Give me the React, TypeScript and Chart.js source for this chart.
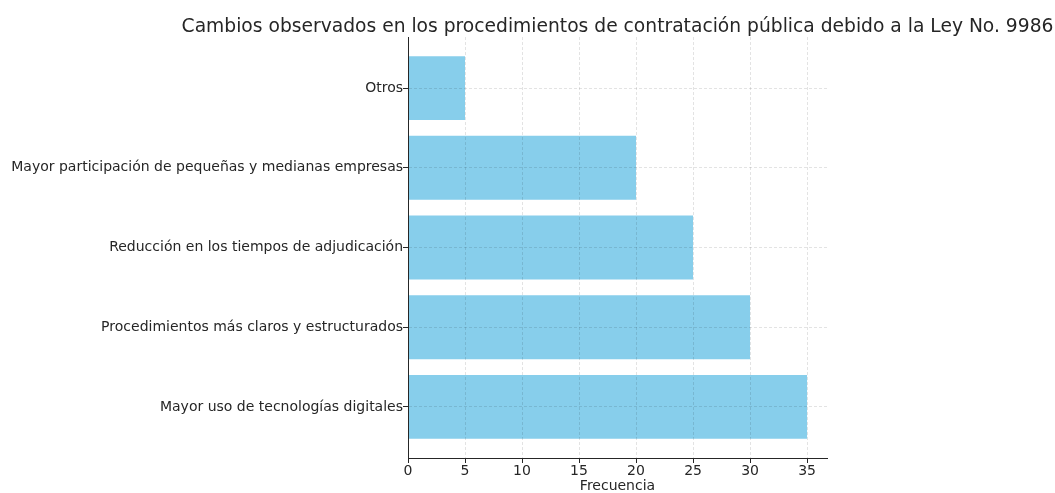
import React, { useEffect, useRef } from "react";
import { Chart, registerables } from "chart.js";

Chart.register(...registerables);

const categories = [
  "Mayor uso de tecnologías digitales",
  "Procedimientos más claros y estructurados",
  "Reducción en los tiempos de adjudicación",
  "Mayor participación de pequeñas y medianas empresas",
  "Otros",
];
const values = [35, 30, 25, 20, 5];
const xTicks = [0, 5, 10, 15, 20, 25, 30, 35];
const titleText =
  "Cambios observados en los procedimientos de contratación pública debido a la Ley No. 9986";
const xLabel = "Frecuencia";

const FONT = "'DejaVu Sans', sans-serif";
const TEXT = "#262626";

export default function App() {
  const ref = useRef<HTMLCanvasElement | null>(null);

  useEffect(() => {
    if (!ref.current) return;
    const textPlugin = {
      id: "mplTexts",
      afterDraw(chart: any) {
        const { ctx, chartArea } = chart;
        const cx = (chartArea.left + chartArea.right) / 2;
        ctx.save();
        ctx.fillStyle = TEXT;
        ctx.textAlign = "center";
        ctx.textBaseline = "alphabetic";
        ctx.font = `18.7px ${FONT}`;
        ctx.fillText(titleText, cx, 32);
        ctx.font = `14px ${FONT}`;
        ctx.fillText(xLabel, cx, 490);
        ctx.restore();
      },
    };

    const chart = new Chart(ref.current, {
      type: "bar",
      data: {
        datasets: [
          {
            data: values.map((v, i) => ({ x: v, y: i })),
            backgroundColor: "#87CEEB",
            borderWidth: 0,
            barPercentage: 0.8,
            categoryPercentage: 1,
          },
        ],
      },
      options: {
        indexAxis: "y",
        animation: false,
        responsive: false,
        layout: { padding: { top: 37, right: 228, left: 0, bottom: 0 } },
        plugins: {
          legend: { display: false },
          tooltip: { enabled: false },
          title: { display: false },
        },
        scales: {
          x: {
            type: "linear",
            min: 0,
            max: 36.75,
            offset: false,
            afterBuildTicks: (s: any) => {
              s.ticks = xTicks.map((v) => ({ value: v }));
            },
            afterFit: (s: any) => {
              s.height = 35;
            },
            ticks: {
              font: { family: FONT, size: 14 },
              color: TEXT,
              padding: 0,
              maxRotation: 0,
              autoSkip: false,
            },
            grid: {
              offset: false,
              color: "rgba(0,0,0,0.11)",
              tickColor: TEXT,
              tickLength: 5,
              tickBorderDash: [],
              z: 1,
            },
            border: { color: TEXT, width: 1, dash: [3, 2], z: 2 },
          },
          y: {
            type: "linear",
            min: -0.64,
            max: 4.64,
            offset: false,
            afterBuildTicks: (s: any) => {
              s.ticks = categories.map((_, i) => ({ value: i }));
            },
            afterFit: (s: any) => {
              s.width = 408;
            },
            ticks: {
              font: { family: FONT, size: 14 },
              color: TEXT,
              padding: 0,
              autoSkip: false,
              callback: (v: any) => categories[Number(v)] ?? "",
            },
            grid: {
              offset: false,
              color: "rgba(0,0,0,0.11)",
              tickColor: TEXT,
              tickLength: 5,
              tickBorderDash: [],
              z: 1,
            },
            border: { color: TEXT, width: 1, dash: [3, 2], z: 2 },
          },
        },
      },
      plugins: [textPlugin],
    } as any);

    return () => chart.destroy();
  }, []);

  return (
    <div style={{ position: "fixed", left: 0, top: 0, width: 1055, height: 493, background: "#fff" }}>
      <canvas ref={ref} width={1055} height={493} style={{ display: "block" }} />
    </div>
  );
}
